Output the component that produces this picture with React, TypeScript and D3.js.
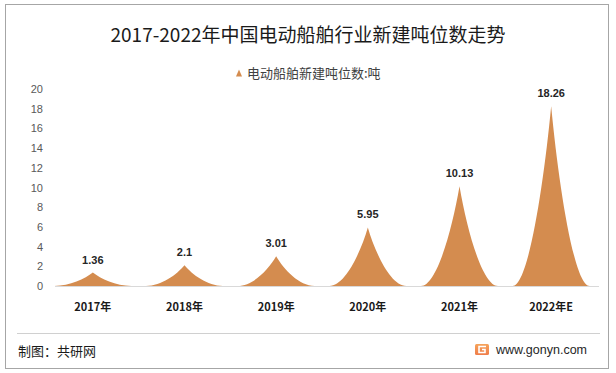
import React, { useRef, useEffect } from 'react';
import * as d3 from 'd3';

const years = ['2017年', '2018年', '2019年', '2020年', '2021年', '2022年E'];
const tonnage = [1.36, 2.1, 3.01, 5.95, 10.13, 18.26];
const yTicks = [0, 2, 4, 6, 8, 10, 12, 14, 16, 18, 20];

const W = 616;
const H = 373;
const COLOR = '#d48c4f';
const CJK = '"Noto Sans CJK SC", "Microsoft YaHei", sans-serif';

const App: React.FC = () => {
    const ref = useRef<SVGSVGElement>(null);

    useEffect(() => {
        if (!ref.current) return;
        const svg = d3.select(ref.current);
        svg.selectAll('*').remove();

        svg.append('rect')
            .attr('x', 5.5).attr('y', 4.5)
            .attr('width', 603).attr('height', 364)
            .attr('fill', '#fff').attr('stroke', '#a6a6a6');

        svg.append('text')
            .attr('x', 308).attr('y', 42)
            .attr('text-anchor', 'middle')
            .attr('font-family', CJK).attr('font-size', 19)
            .attr('fill', '#1a1a1a')
            .text('2017-2022年中国电动船舶行业新建吨位数走势');

        // legend
        const lg = svg.append('g').attr('transform', 'translate(239,73)');
        lg.append('path').attr('d', 'M-3,3.5 L0,-3.5 L3,3.5 Z').attr('fill', COLOR);
        lg.append('text')
            .attr('x', 8).attr('y', 4.5)
            .attr('font-family', CJK).attr('font-size', 13)
            .attr('fill', '#404040')
            .text('电动船舶新建吨位数:吨');

        const x = d3.scaleBand<string>().domain(years).range([47, 597]);
        const y = d3.scaleLinear().domain([0, 20]).range([286, 89]);

        svg.append('g').selectAll('text')
            .data(yTicks).enter().append('text')
            .attr('x', 43).attr('y', d => y(d) + 4)
            .attr('text-anchor', 'end')
            .attr('font-family', '"Liberation Sans", sans-serif')
            .attr('font-size', 11)
            .attr('fill', '#595959')
            .text(d => d);

        svg.append('line')
            .attr('x1', 55).attr('x2', 599)
            .attr('y1', y(0) + 0.5).attr('y2', y(0) + 0.5)
            .attr('stroke', '#d9d9d9');

        // concave "peak" shape
        const peak = (cx: number, top: number, base: number, hw: number) => {
            const h = base - top;
            const p = d3.path();
            p.moveTo(cx - hw, base);
            p.bezierCurveTo(cx - 0.6 * hw, base, cx - 0.2 * hw, top + 0.45 * h, cx, top);
            p.bezierCurveTo(cx + 0.2 * hw, top + 0.45 * h, cx + 0.6 * hw, base, cx + hw, base);
            p.closePath();
            return p.toString();
        };

        const hw = x.bandwidth() * 0.42;
        const marks = svg.append('g').selectAll('g')
            .data(years.map((c, i) => ({ c, v: tonnage[i] })))
            .enter().append('g');

        marks.append('path')
            .attr('d', d => peak(x(d.c)! + x.bandwidth() / 2, y(d.v), y(0), hw))
            .attr('fill', COLOR);

        marks.append('text')
            .attr('x', d => x(d.c)! + x.bandwidth() / 2)
            .attr('y', d => y(d.v) - 9)
            .attr('text-anchor', 'middle')
            .attr('font-family', '"Liberation Sans", sans-serif')
            .attr('font-weight', 'bold').attr('font-size', 11)
            .attr('fill', '#262626')
            .text(d => d.v);

        marks.append('text')
            .attr('x', d => x(d.c)! + x.bandwidth() / 2)
            .attr('y', 311)
            .attr('text-anchor', 'middle')
            .attr('font-family', CJK)
            .attr('font-weight', 'bold').attr('font-size', 11)
            .attr('fill', '#1a1a1a')
            .text(d => d.c);

        // footer
        svg.append('line')
            .attr('x1', 17).attr('x2', 600)
            .attr('y1', 333.5).attr('y2', 333.5)
            .attr('stroke', '#d0d0d0');

        svg.append('text')
            .attr('x', 18).attr('y', 356)
            .attr('font-family', CJK).attr('font-size', 13)
            .attr('fill', '#1a1a1a')
            .text('制图：共研网');

        const logo = svg.append('g').attr('transform', 'translate(475,344)');
        const grad = svg.append('defs').append('linearGradient')
            .attr('id', 'lg').attr('x1', 0).attr('y1', 0).attr('x2', 0).attr('y2', 1);
        grad.append('stop').attr('offset', 0).attr('stop-color', '#f6a35a');
        grad.append('stop').attr('offset', 1).attr('stop-color', '#ef7d4a');
        logo.append('rect').attr('width', 14).attr('height', 11).attr('rx', 1.5).attr('fill', 'url(#lg)');
        logo.append('path')
            .attr('d', 'M11,2.5 H4 V8.5 H10 V5.5 H7')
            .attr('fill', 'none').attr('stroke', '#fff').attr('stroke-width', 1.6);

        svg.append('text')
            .attr('x', 496).attr('y', 354)
            .attr('font-family', '"Liberation Sans", sans-serif')
            .attr('font-size', 12.5)
            .attr('fill', '#262626')
            .text('www.gonyn.com');
    }, []);

    return <svg ref={ref} width={W} height={H} style={{ position: 'absolute', left: 0, top: 0 }} />;
};

export default App;
